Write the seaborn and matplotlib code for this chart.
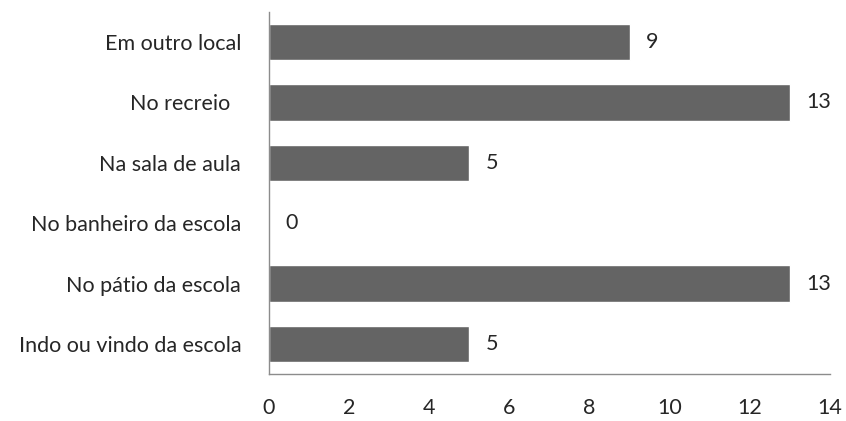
import matplotlib
matplotlib.use("Agg")
import matplotlib.pyplot as plt
import seaborn as sns
import pandas as pd

categories = ["Em outro local", "No recreio  ", "Na sala de aula", "No banheiro da escola",
              "No pátio da escola", "Indo ou vindo da escola"]
values = [9, 13, 5, 0, 13, 5]
xticks = [0, 2, 4, 6, 8, 10, 12, 14]

sns.set_theme(style="white")
plt.rcParams["font.family"] = ["Lato", "DejaVu Sans"]

df = pd.DataFrame({"local": categories, "n": values})

fig = plt.figure(figsize=(8.46, 4.21), dpi=100)
ax = fig.add_axes([269 / 846, 1 - 374 / 421, (830 - 269) / 846, (374 - 12) / 421])

sns.barplot(data=df, x="n", y="local", orient="h", color="#646464", saturation=1,
            width=0.6, ax=ax)

ax.set_xlim(0, 14)
ax.set_xticks(xticks)
ax.set_xticklabels([str(t) for t in xticks])
ax.set_xlabel("")
ax.set_ylabel("")
for s in ["top", "right"]:
    ax.spines[s].set_visible(False)
for s in ["left", "bottom"]:
    ax.spines[s].set_color("#8c8c8c")
    ax.spines[s].set_linewidth(1)
ax.tick_params(axis="both", length=0, labelsize=15.5, colors="#262626")
ax.tick_params(axis="x", pad=17)
ax.tick_params(axis="y", pad=20)

for i, v in enumerate(values):
    ax.annotate(str(v), xy=(v, i), xytext=(12, 0), textcoords="offset points",
                va="center", ha="left", fontsize=15.5, color="#262626")

fig.savefig("out.png", dpi=100)
